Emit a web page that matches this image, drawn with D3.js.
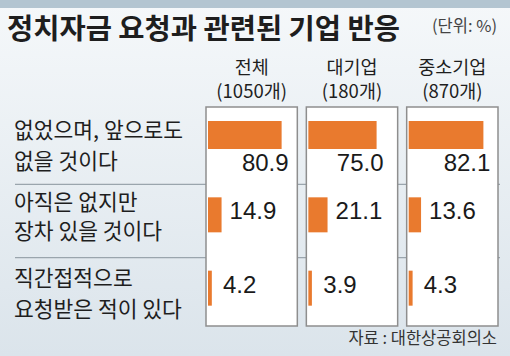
<!DOCTYPE html>
<html><head><meta charset="utf-8">
<script src="https://cdn.jsdelivr.net/npm/d3@7"></script>
<style>html,body{margin:0;padding:0;background:#fff;}svg{display:block;}</style>
</head><body>
<script>
const title = "정치자금 요청과 관련된 기업 반응";
const unitLabel = "(단위: %)";
const source = "자료 : 대한상공회의소";
const categories = ["없었으며, 앞으로도|없을 것이다", "아직은 없지만|장차 있을 것이다", "직간접적으로|요청받은 적이 있다"];
const groups = ["전체", "대기업", "중소기업"];
const groupCounts = ["(1050개)", "(180개)", "(870개)"];
const valuesTotal = [80.9, 14.9, 4.2];
const valuesLarge = [75.0, 21.1, 3.9];
const valuesSmall = [82.1, 13.6, 4.3];

const W = 510, H = 356;
const KR = "'Noto Sans CJK KR','Noto Sans',sans-serif";
const NUM = "'Liberation Sans',Arial,sans-serif";
const orange = "#e97a2e";
const seriesVals = [valuesTotal, valuesLarge, valuesSmall];

const svg = d3.select("body").append("svg").attr("width", W).attr("height", H);
const defs = svg.append("defs");
const g = defs.append("linearGradient").attr("id","bg").attr("x1",0).attr("y1",0).attr("x2",0).attr("y2",1);
g.append("stop").attr("offset","0%").attr("stop-color","#f5f8fa");
g.append("stop").attr("offset","100%").attr("stop-color","#dbe4eb");
svg.append("rect").attr("width",W).attr("height",H).attr("fill","url(#bg)");
svg.append("rect").attr("width",W).attr("height",8).attr("fill","#b3c5d1");

svg.append("text").attr("x",7).attr("y",39).attr("font-family",KR).attr("font-weight","bold")
  .attr("font-size",28.5).attr("fill","#1e1e1e").text(title);
svg.append("text").attr("x",497).attr("y",32).attr("text-anchor","end").attr("font-family",KR)
  .attr("font-size",16.5).attr("fill","#444").text(unitLabel);

const xg = d3.scaleBand().domain(groups).range([206, 498]).paddingInner(0.09);
const yRow = d3.scaleBand().domain(categories).range([110, 330]);
const x = d3.scaleLinear().domain([0, 100]).range([0, 91]);
const panelTop = 107, panelBottom = 326;

// separators
const seps = categories.slice(1).map(c => yRow(c) + 1);
svg.selectAll("line.sep").data(seps).enter().append("line")
  .attr("x1",15).attr("x2",500).attr("y1",d=>d).attr("y2",d=>d)
  .attr("stroke","#9aa5ad").attr("stroke-width",1.2);

// category labels
const catOffsets = [[28, 59], [26.5, 55.5], [29, 60]];
categories.forEach((c, i) => {
  const lines = c.split("|");
  const t = svg.append("text").attr("font-family",KR).attr("font-size",21.5).attr("fill","#1e1e1e");
  lines.forEach((ln, j) => {
    t.append("tspan").attr("x",14).attr("y", yRow(c) + catOffsets[i][j]).text(ln);
  });
});

// group headers (two lines in one text element)
groups.forEach((gname, k) => {
  const cx = xg(gname) + xg.bandwidth()/2;
  const t = svg.append("text").attr("text-anchor","middle").attr("font-family",KR)
    .attr("font-size",18.5).attr("fill","#1e1e1e");
  t.append("tspan").attr("x",cx).attr("y",74).text(gname);
  t.append("tspan").attr("x",cx).attr("y",97.5).text(groupCounts[k]);
});

// panels
groups.forEach((gname, k) => {
  const px = xg(gname);
  svg.append("rect").attr("x",px).attr("y",panelTop).attr("width",xg.bandwidth())
    .attr("height",panelBottom-panelTop).attr("fill","#fff").attr("stroke","#8e8e8e").attr("stroke-width",1.5);
  const vals = seriesVals[k];
  categories.forEach((c, i) => {
    const v = vals[i];
    const by = i === 0 ? yRow(c) + 11 : yRow(c) + 14;
    const bh = i === 0 ? 28 : 35;
    svg.append("rect").attr("x", px + 2).attr("y", by).attr("width", x(v)).attr("height", bh).attr("fill", orange);
    const label = v.toFixed(1);
    if (i === 0) {
      svg.append("text").attr("x", px + 2 + x(v) + 7).attr("y", yRow(c) + 61).attr("text-anchor","end")
        .attr("font-family",NUM).attr("font-size",24).attr("fill","#1a1a1a").text(label);
    } else {
      svg.append("text").attr("x", px + 2 + Math.max(x(v) + 8, 15)).attr("y", by + 22)
        .attr("font-family",NUM).attr("font-size",24).attr("fill","#1a1a1a").text(label);
    }
  });
});

svg.append("text").attr("x",497).attr("y",344).attr("text-anchor","end").attr("font-family",KR)
  .attr("font-size",16.5).attr("fill","#333").text(source);
</script>
</body></html>
